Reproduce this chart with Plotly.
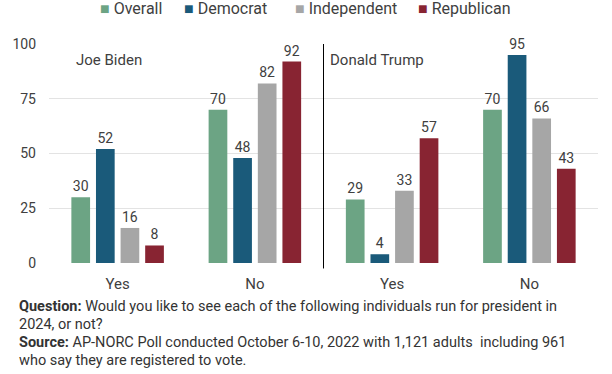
import plotly.graph_objects as go

categories = ["Yes", "No", "Yes", "No"]
series_names = ["Overall", "Democrat", "Independent", "Republican"]
overall = [30, 70, 29, 70]
democrat = [52, 48, 4, 95]
independent = [16, 82, 33, 66]
republican = [8, 92, 57, 43]
panel_titles = ["Joe Biden", "Donald Trump"]
y_ticks = [0, 25, 50, 75, 100]
note_lines = [
    "<b>Question:</b> Would you like to see each of the following individuals run for president in",
    "2024, or not?",
    "<b>Source:</b> AP-NORC Poll conducted October 6-10, 2022 with 1,121 adults  including 961",
    "who say they are registered to vote.",
]

colors = ["#6ca484", "#1a5a7a", "#a6a6a6", "#882432"]
FONT = "Roboto, sans-serif"
TXT = "#404040"

W, H = 612, 374
ML, MR, MT, MB = 42, 14, 44, 111
PH = H - MT - MB
PW = W - ML - MR
PAD = 4  # annotation inner offset


def px_x(px):
    return (px - ML) / PW


def px_y(py):
    return (H - MB - py) / PH


x = list(range(len(categories)))
fig = go.Figure()
for name, vals, col in zip(series_names, [overall, democrat, independent, republican], colors):
    fig.add_trace(go.Bar(
        x=x, y=vals, name=name, marker=dict(color=col, line=dict(width=0)),
        text=[str(v) for v in vals], textposition="outside", cliponaxis=False,
        textfont=dict(family=FONT, size=14, color=TXT), showlegend=False,
    ))

fig.update_layout(
    width=W, height=H,
    margin=dict(l=ML, r=MR, t=MT, b=MB),
    paper_bgcolor="white", plot_bgcolor="white",
    barmode="group", bargap=0.283, bargroupgap=0.24,
    font=dict(family=FONT, size=14, color=TXT),
    xaxis=dict(tickvals=x, ticktext=categories, range=[-0.5, 3.5], showgrid=False,
               zeroline=False, showline=False, ticks="", tickfont=dict(size=15, color=TXT),
               ticklabelstandoff=10),
    yaxis=dict(range=[0, 100], tickvals=y_ticks, showgrid=True, gridcolor="#e3e3e3", gridwidth=1,
               zeroline=False, showline=False, ticks="", tickfont=dict(size=14, color=TXT),
               ticklabelstandoff=12),
)

# legend drawn as text entries
legend_left = [96, 181, 293, 418]
for name, col, lx in zip(series_names, colors, legend_left):
    fig.add_annotation(text=f'<span style="color:{col}">■</span> {name}', xref="paper", yref="paper",
                       x=px_x(lx - PAD), y=px_y(8), xanchor="left", yanchor="middle", showarrow=False,
                       font=dict(size=16, color=TXT))

# divider between panels
fig.add_shape(type="line", xref="paper", yref="paper", x0=0.5, x1=0.5, y0=-0.025, y1=1.0,
              line=dict(color="black", width=1))

fig.add_annotation(text=panel_titles[0], xref="paper", yref="paper", x=px_x(71 - PAD), y=px_y(60),
                   xanchor="left", yanchor="middle", showarrow=False, font=dict(size=15, color=TXT))
fig.add_annotation(text=panel_titles[1], xref="paper", yref="paper", x=px_x(329 - PAD), y=px_y(60),
                   xanchor="left", yanchor="middle", showarrow=False, font=dict(size=15, color=TXT))

for i, line in enumerate(note_lines):
    yc = 306 + 18 * i
    fig.add_annotation(text=line, xref="paper", yref="paper", x=px_x(14 - PAD), y=px_y(yc),
                       xanchor="left", yanchor="middle", align="left", showarrow=False,
                       font=dict(size=14.5, color="#333333"))

fig.write_html("out.html", config={"displayModeBar": False},
               post_script="document.body.style.margin='0';document.body.style.padding='0';")
